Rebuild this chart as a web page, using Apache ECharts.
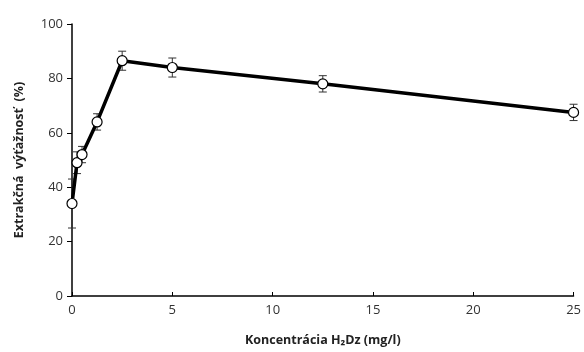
<!DOCTYPE html>
<html>
<head>
<meta charset="utf-8">
<script src="https://cdn.jsdelivr.net/npm/echarts@6/dist/echarts.min.js"></script>
<style>
  html, body { margin: 0; padding: 0; background: #fff; }
  #chart { width: 584px; height: 352px; }
</style>
</head>
<body>
<div id="chart"></div>
<script>
// koncentracia H2Dz (mg/l) a extrakcna vytaznost (%)
const conc = [0, 0.25, 0.5, 1.25, 2.5, 5, 12.5, 25]
const yieldPct = [34, 49, 52, 64, 86.5, 84, 78, 67.5]
const errPct = [9, 4, 3, 3, 3.5, 3.5, 3, 3]
const xTicks = [0, 5, 10, 15, 20, 25]
const yTicks = [0, 20, 40, 60, 80, 100]

const chart = echarts.init(document.getElementById('chart'))

const lineData = conc.map((x, i) => [x, yieldPct[i]])
const errData = conc.map((x, i) => [x, yieldPct[i] - errPct[i], yieldPct[i] + errPct[i]])

chart.setOption({
  animation: false,
  textStyle: { fontFamily: 'Open Sans' },
  grid: { left: 72, right: 6, top: 24, bottom: 54 },
  xAxis: {
    type: 'value',
    min: xTicks[0],
    max: xTicks[xTicks.length - 1],
    interval: 5,
    name: 'Koncentrácia H₂Dz (mg/l)',
    nameLocation: 'middle',
    nameGap: 38,
    nameTextStyle: { color: '#222', fontSize: 12.5, fontWeight: 'bold' },
    axisLine: { lineStyle: { color: '#000', width: 1.5 } },
    axisTick: { inside: true, length: 4, lineStyle: { color: '#000' } },
    axisLabel: { color: '#333', fontSize: 13, margin: 8 },
    splitLine: { show: false }
  },
  yAxis: {
    type: 'value',
    min: yTicks[0],
    max: yTicks[yTicks.length - 1],
    interval: 20,
    name: 'Extrakčná  výťažnosť  (%)',
    nameLocation: 'middle',
    nameGap: 46,
    nameTextStyle: { color: '#222', fontSize: 12.5, fontWeight: 'bold' },
    axisLine: { show: true, lineStyle: { color: '#000', width: 1.5 } },
    axisTick: { show: true, length: 5, lineStyle: { color: '#000' } },
    axisLabel: { color: '#333', fontSize: 13, margin: 9 },
    splitLine: { show: false }
  },
  series: [
    {
      type: 'custom',
      z: 1,
      data: errData,
      renderItem: function (params, api) {
        const x = api.value(0)
        const lo = api.coord([x, api.value(1)])
        const hi = api.coord([x, api.value(2)])
        const w = 4
        const style = { stroke: '#333', lineWidth: 1 }
        return {
          type: 'group',
          children: [
            { type: 'line', shape: { x1: lo[0], y1: lo[1], x2: hi[0], y2: hi[1] }, style: style },
            { type: 'line', shape: { x1: lo[0] - w, y1: lo[1], x2: lo[0] + w, y2: lo[1] }, style: style },
            { type: 'line', shape: { x1: hi[0] - w, y1: hi[1], x2: hi[0] + w, y2: hi[1] }, style: style }
          ]
        }
      }
    },
    {
      type: 'line',
      z: 3,
      data: lineData,
      symbol: 'circle',
      symbolSize: 10,
      lineStyle: { color: '#000', width: 3.5 },
      itemStyle: { color: '#fff', borderColor: '#000', borderWidth: 1.2 }
    }
  ]
})
</script>
</body>
</html>
